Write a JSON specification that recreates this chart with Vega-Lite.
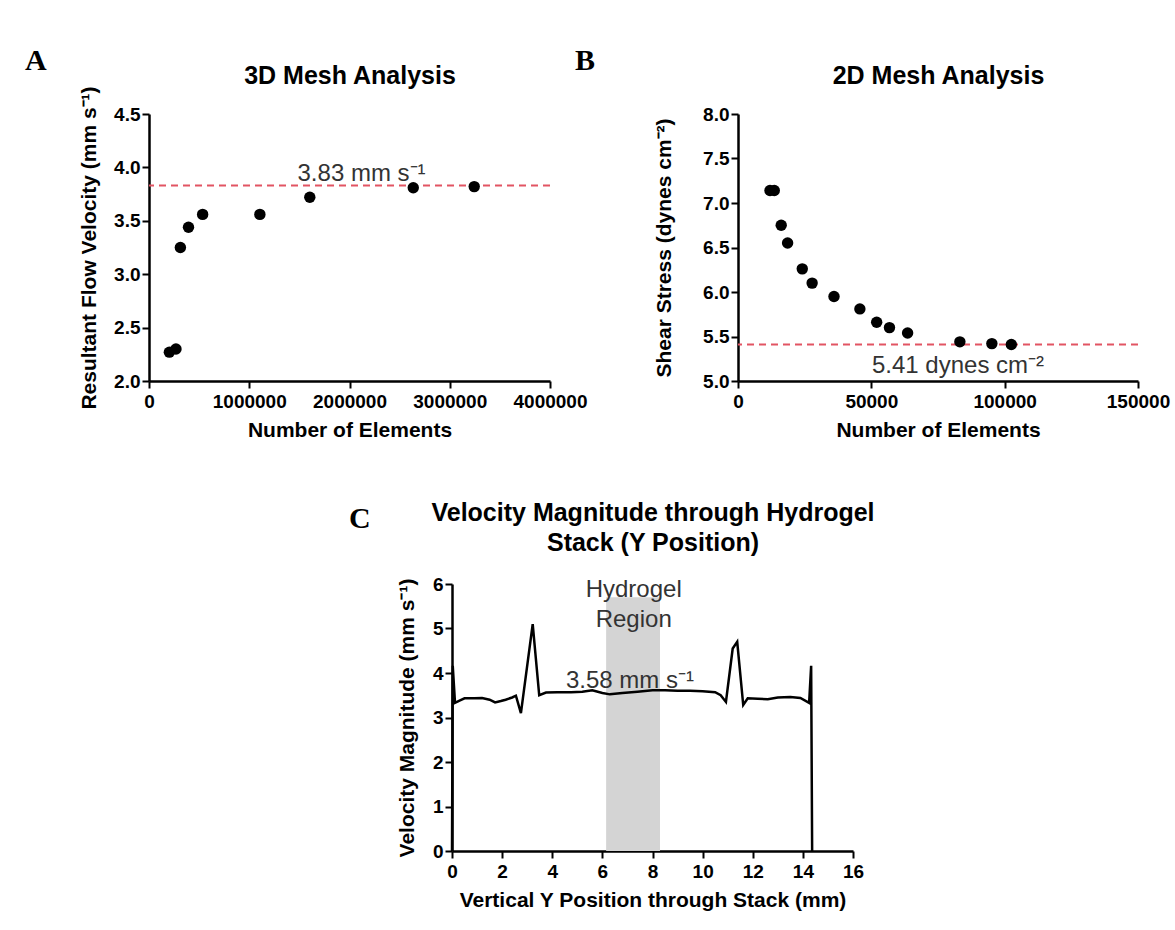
{
  "$schema": "https://vega.github.io/schema/vega-lite/v6.json",
  "padding": {"left": 25, "top": 46, "right": 5, "bottom": 5},
  "spacing": 60,
  "background": "white",
  "config": {
    "view": {"stroke": null},
    "font": "Liberation Sans",
    "axis": {
      "grid": false,
      "domainColor": "black",
      "domainWidth": 2.5,
      "tickColor": "black",
      "tickWidth": 2,
      "tickSize": 7,
      "labelFont": "Liberation Sans",
      "labelFontSize": 19,
      "labelFontWeight": "bold",
      "labelColor": "black",
      "labelFlush": false,
      "labelOverlap": false,
      "titleFont": "Liberation Sans",
      "titleFontSize": 21,
      "titleFontWeight": "bold",
      "titleColor": "black"
    },
    "title": {
      "font": "Liberation Serif",
      "fontSize": 30,
      "fontWeight": "bold",
      "color": "black",
      "anchor": "start",
      "frame": "group",
      "baseline": "alphabetic",
      "offset": 0
    }
  },
  "vconcat": [
    {
      "hconcat": [
        {
          "width": 401,
          "height": 267,
          "title": {"text": "A", "dx": -124, "dy": 17},
          "layer": [
            {
              "data": {"values": [{"y": 3.83}]},
              "mark": {"type": "rule", "color": "#e25463", "strokeWidth": 2, "strokeDash": [7, 5]},
              "encoding": {"y": {"field": "y", "type": "quantitative"}}
            },
            {
              "data": {"values": [
                {"x": 203000, "y": 2.27}, {"x": 269000, "y": 2.30}, {"x": 313000, "y": 3.25},
                {"x": 394000, "y": 3.44}, {"x": 535000, "y": 3.56}, {"x": 1106000, "y": 3.56},
                {"x": 1604000, "y": 3.72}, {"x": 2636000, "y": 3.81}, {"x": 3244000, "y": 3.82}
              ]},
              "mark": {"type": "circle", "size": 130, "color": "black", "opacity": 1},
              "encoding": {
                "x": {"field": "x", "type": "quantitative",
                  "scale": {"domain": [0, 4000000], "nice": false},
                  "axis": {"title": "Number of Elements", "values": [0, 1000000, 2000000, 3000000, 4000000], "format": "d", "labelPadding": 4, "titlePadding": 8}},
                "y": {"field": "y", "type": "quantitative",
                  "scale": {"domain": [2, 4.5], "nice": false, "zero": false},
                  "axis": {"title": "Resultant Flow Velocity (mm s⁻¹)", "values": [2, 2.5, 3, 3.5, 4, 4.5], "format": ".1f", "labelPadding": 2, "titlePadding": 14}}
              }
            },
            {
              "data": {"values": [{"x": 2120000, "y": 3.87, "label": "3.83 mm s⁻¹"}]},
              "mark": {"type": "text", "fontSize": 24, "color": "#333333", "baseline": "alphabetic", "align": "center"},
              "encoding": {
                "x": {"field": "x", "type": "quantitative",
                  "axis": {"orient": "top", "title": "3D Mesh Analysis", "labels": false, "ticks": false, "domain": false, "titleFontSize": 25, "titlePadding": 26}},
                "y": {"field": "y", "type": "quantitative"},
                "text": {"field": "label"}
              }
            }
          ],
          "resolve": {"axis": {"x": "independent"}}
        },
        {
          "width": 400,
          "height": 267,
          "title": {"text": "B", "dx": -163, "dy": 17},
          "layer": [
            {
              "data": {"values": [{"y": 5.41}]},
              "mark": {"type": "rule", "color": "#e25463", "strokeWidth": 2, "strokeDash": [7, 5]},
              "encoding": {"y": {"field": "y", "type": "quantitative"}}
            },
            {
              "data": {"values": [
                {"x": 12000, "y": 7.14}, {"x": 13600, "y": 7.14}, {"x": 16200, "y": 6.75},
                {"x": 18600, "y": 6.55}, {"x": 24100, "y": 6.26}, {"x": 27800, "y": 6.10},
                {"x": 36000, "y": 5.95}, {"x": 45700, "y": 5.81}, {"x": 52000, "y": 5.66},
                {"x": 56800, "y": 5.60}, {"x": 63600, "y": 5.54}, {"x": 83200, "y": 5.44},
                {"x": 95200, "y": 5.42}, {"x": 102500, "y": 5.41}
              ]},
              "mark": {"type": "circle", "size": 130, "color": "black", "opacity": 1},
              "encoding": {
                "x": {"field": "x", "type": "quantitative",
                  "scale": {"domain": [0, 150000], "nice": false},
                  "axis": {"title": "Number of Elements", "values": [0, 50000, 100000, 150000], "format": "d", "labelPadding": 4, "titlePadding": 8}},
                "y": {"field": "y", "type": "quantitative",
                  "scale": {"domain": [5, 8], "nice": false, "zero": false},
                  "axis": {"title": "Shear Stress (dynes cm⁻²)", "values": [5, 5.5, 6, 6.5, 7, 7.5, 8], "format": ".1f", "labelPadding": 2, "titlePadding": 28}}
              }
            },
            {
              "data": {"values": [{"x": 82500, "y": 5.09, "label": "5.41 dynes cm⁻²"}]},
              "mark": {"type": "text", "fontSize": 24, "color": "#333333", "baseline": "alphabetic", "align": "center"},
              "encoding": {
                "x": {"field": "x", "type": "quantitative",
                  "axis": {"orient": "top", "title": "2D Mesh Analysis", "labels": false, "ticks": false, "domain": false, "titleFontSize": 25, "titlePadding": 26}},
                "y": {"field": "y", "type": "quantitative"},
                "text": {"field": "label"}
              }
            }
          ],
          "resolve": {"axis": {"x": "independent"}}
        }
      ],
      "spacing": 188,
      "bounds": "flush"
    },
    {
      "hconcat": [
        {
          "width": 300,
          "height": 267,
          "data": {"values": []},
          "mark": "point"
        },
        {
          "width": 401,
          "height": 267,
          "title": {"text": "C", "dx": -103, "dy": 38},
          "layer": [
            {
              "data": {"values": [{"x": 6.15, "x2": 8.3, "y": 0, "y2": 5.7}]},
              "mark": {"type": "rect", "color": "#d4d4d4"},
              "encoding": {
                "x": {"field": "x", "type": "quantitative", "axis": null},
                "x2": {"field": "x2"},
                "y": {"field": "y", "type": "quantitative"},
                "y2": {"field": "y2"}
              }
            },
            {
              "data": {"values": [
                {"x": 0, "y": 0}, {"x": 0.03, "y": 4.16}, {"x": 0.12, "y": 3.33}, {"x": 0.3, "y": 3.38},
                {"x": 0.5, "y": 3.43}, {"x": 0.9, "y": 3.43}, {"x": 1.2, "y": 3.44}, {"x": 1.5, "y": 3.4},
                {"x": 1.72, "y": 3.34}, {"x": 1.95, "y": 3.37}, {"x": 2.14, "y": 3.4}, {"x": 2.4, "y": 3.45},
                {"x": 2.55, "y": 3.49}, {"x": 2.75, "y": 3.1}, {"x": 3.22, "y": 5.1}, {"x": 3.48, "y": 3.5},
                {"x": 3.75, "y": 3.56}, {"x": 4.2, "y": 3.57}, {"x": 4.75, "y": 3.57}, {"x": 5.2, "y": 3.58},
                {"x": 5.6, "y": 3.61}, {"x": 6.0, "y": 3.55}, {"x": 6.3, "y": 3.52}, {"x": 6.8, "y": 3.55},
                {"x": 7.4, "y": 3.58}, {"x": 8.0, "y": 3.61}, {"x": 8.5, "y": 3.61}, {"x": 9.0, "y": 3.6},
                {"x": 9.5, "y": 3.6}, {"x": 10.0, "y": 3.59}, {"x": 10.5, "y": 3.57}, {"x": 10.72, "y": 3.5},
                {"x": 10.93, "y": 3.35}, {"x": 11.2, "y": 4.55}, {"x": 11.38, "y": 4.7}, {"x": 11.62, "y": 3.28},
                {"x": 11.8, "y": 3.43}, {"x": 12.2, "y": 3.42}, {"x": 12.6, "y": 3.41}, {"x": 13.0, "y": 3.45},
                {"x": 13.5, "y": 3.46}, {"x": 13.9, "y": 3.44}, {"x": 14.25, "y": 3.33}, {"x": 14.33, "y": 4.16},
                {"x": 14.37, "y": 0}
              ]},
              "mark": {"type": "line", "color": "black", "strokeWidth": 2.5},
              "encoding": {
                "x": {"field": "x", "type": "quantitative", "sort": null,
                  "scale": {"domain": [0, 16], "nice": false},
                  "axis": {"title": "Vertical Y Position through Stack (mm)", "values": [0, 2, 4, 6, 8, 10, 12, 14, 16], "format": "d", "labelPadding": 4, "titlePadding": 8}},
                "y": {"field": "y", "type": "quantitative",
                  "scale": {"domain": [0, 6], "nice": false},
                  "axis": {"title": "Velocity Magnitude (mm s⁻¹)", "values": [0, 1, 2, 3, 4, 5, 6], "format": "d", "labelPadding": 2, "titlePadding": 15}}
              }
            },
            {
              "data": {"values": [{"x": 7.1, "y": 3.66, "label": "3.58 mm s⁻¹"}]},
              "mark": {"type": "text", "fontSize": 24, "color": "#333333", "baseline": "alphabetic", "align": "center"},
              "encoding": {
                "x": {"field": "x", "type": "quantitative", "axis": null},
                "y": {"field": "y", "type": "quantitative"},
                "text": {"field": "label"}
              }
            },
            {
              "data": {"values": [{"x": 7.25, "y": 5.86, "label": "Hydrogel\nRegion"}]},
              "mark": {"type": "text", "fontSize": 24, "color": "#333333", "baseline": "middle", "align": "center", "lineBreak": "\n", "lineHeight": 30},
              "encoding": {
                "x": {"field": "x", "type": "quantitative",
                  "axis": {"orient": "top", "title": ["Velocity Magnitude through Hydrogel", "Stack (Y Position)"], "labels": false, "ticks": false, "domain": false, "titleFontSize": 25, "titleLineHeight": 30, "titlePadding": 29}},
                "y": {"field": "y", "type": "quantitative"},
                "text": {"field": "label"}
              }
            }
          ],
          "resolve": {"axis": {"x": "independent"}}
        }
      ],
      "spacing": 3,
      "bounds": "flush"
    }
  ]
}
